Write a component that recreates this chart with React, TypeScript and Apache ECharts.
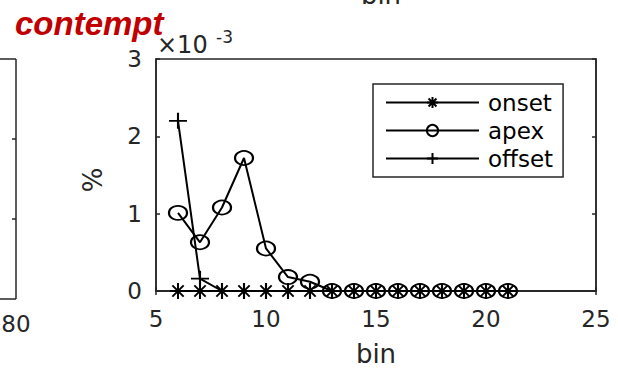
import React, { useEffect, useRef } from "react";
import * as echarts from "echarts";

// bins (x values)
const bins = [6, 7, 8, 9, 10, 11, 12, 13, 14, 15, 16, 17, 18, 19, 20, 21];
// values in units of 1e-3 (axis shows "× 10^-3")
const onsetVals = [0, 0, 0, 0, 0, 0, 0, 0, 0, 0, 0, 0, 0, 0, 0, 0];
const apexVals = [1.01, 0.63, 1.08, 1.72, 0.55, 0.18, 0.12, 0, 0, 0, 0, 0, 0, 0, 0, 0];
const offsetVals = [2.2, 0.16, 0, 0, 0, 0, 0, 0, 0, 0, 0, 0, 0, 0, 0, 0];
const seriesNames = ["onset", "apex", "offset"];
const xTicks = { min: 5, max: 25, step: 5 };
const yTicks = { min: 0, max: 3, step: 1 };
const leftPanelTick = "80";

const AX = "#262626";
const FONT = "DejaVu Sans";

const asteriskPath =
  "path://M0,-10L0,10M-10,0L10,0M-7.07,-7.07L7.07,7.07M-7.07,7.07L7.07,-7.07";
const plusPath = "path://M0,-10L0,10M-10,0L10,0";

export default function App() {
  const ref = useRef<HTMLDivElement>(null);
  useEffect(() => {
    if (!ref.current) return;
    document.body.style.margin = "0";
    const chart = echarts.init(ref.current, null, { renderer: "svg" });
    const pts = (vals: number[]) => bins.map((b, i) => [b, vals[i]]);
    const common = {
      type: "line",
      lineStyle: { color: "#000", width: 2 },
      itemStyle: { color: "rgba(0,0,0,0)", borderColor: "#000", borderWidth: 2 },
      emphasis: { disabled: true },
    };
    const gx = 156, gy = 59, gw = 440, gh = 240;
    chart.setOption({
      animation: false,
      backgroundColor: "#fff",
      textStyle: { fontFamily: FONT },
      grid: {
        left: gx, top: gy, width: gw, height: gh,
        show: true, borderColor: AX, borderWidth: 1.5, backgroundColor: "#fff",
      },
      xAxis: [
        {
          type: "value", position: "bottom", min: xTicks.min, max: xTicks.max, interval: xTicks.step,
          axisLine: { show: true, lineStyle: { color: AX, width: 1.5 } },
          axisTick: { show: true, inside: true, length: 4, lineStyle: { color: AX, width: 1.5 } },
          axisLabel: { fontSize: 23, color: AX, margin: 16, fontFamily: FONT },
          splitLine: { show: false },
          name: "bin", nameLocation: "middle", nameGap: 50,
          nameTextStyle: { fontSize: 26, color: AX, fontFamily: FONT },
        },
        {
          type: "value", position: "top", min: xTicks.min, max: xTicks.max, interval: xTicks.step,
          axisLine: { show: true, lineStyle: { color: AX, width: 1.5 } },
          axisTick: { show: true, inside: true, length: 4, lineStyle: { color: AX, width: 1.5 } },
          axisLabel: { show: false },
          splitLine: { show: false },
        },
      ],
      yAxis: [
        {
          type: "value", position: "left", min: yTicks.min, max: yTicks.max, interval: yTicks.step,
          axisLine: { show: true, lineStyle: { color: AX, width: 1.5 } },
          axisTick: { show: true, inside: true, length: 4, lineStyle: { color: AX, width: 1.5 } },
          axisLabel: { fontSize: 23, color: AX, margin: 14, fontFamily: FONT },
          splitLine: { show: false },
        },
        {
          type: "value", position: "right", min: yTicks.min, max: yTicks.max, interval: yTicks.step,
          axisLine: { show: true, lineStyle: { color: AX, width: 1.5 } },
          axisTick: { show: true, inside: true, length: 4, lineStyle: { color: AX, width: 1.5 } },
          axisLabel: { show: false },
          splitLine: { show: false },
        },
      ],
      legend: {
        orient: "vertical", left: 373, top: 84,
        padding: [7, 10, 7, 12], itemGap: 5, itemWidth: 93, itemHeight: 14,
        borderColor: AX, borderWidth: 1.5, backgroundColor: "#fff",
        textStyle: { fontSize: 23, color: "#000", fontFamily: FONT, padding: [0, 0, 0, 4] },
        data: seriesNames,
      },
      series: [
        { ...common, name: seriesNames[0], data: pts(onsetVals), symbol: asteriskPath, symbolSize: [16, 16] },
        { ...common, name: seriesNames[1], data: pts(apexVals), symbol: "circle", symbolSize: [18, 14] },
        { ...common, name: seriesNames[2], data: pts(offsetVals), symbol: plusPath, symbolSize: [18, 16] },
      ],
      graphic: [
        // partial neighbouring panel on the left
        { type: "line", shape: { x1: 0, y1: gy, x2: 16, y2: gy }, style: { stroke: AX, lineWidth: 1.5 } },
        { type: "line", shape: { x1: 0, y1: gy + gh, x2: 16, y2: gy + gh }, style: { stroke: AX, lineWidth: 1.5 } },
        { type: "line", shape: { x1: 16, y1: gy, x2: 16, y2: gy + gh }, style: { stroke: AX, lineWidth: 1.5 } },
        { type: "line", shape: { x1: 12, y1: 139, x2: 16, y2: 139 }, style: { stroke: AX, lineWidth: 1.5 } },
        { type: "line", shape: { x1: 12, y1: 219, x2: 16, y2: 219 }, style: { stroke: AX, lineWidth: 1.5 } },
        {
          type: "text", x: 16, y: 324,
          style: { text: leftPanelTick, fontSize: 23, fill: AX, fontFamily: FONT, textAlign: "center", textVerticalAlign: "middle" },
        },
        // cut-off title of the panel above
        {
          type: "text", x: 381, y: -5,
          style: { text: "bin", fontSize: 26, fill: AX, fontFamily: FONT, textAlign: "center", textVerticalAlign: "middle" },
        },
        // emotion label
        {
          type: "text", x: 15, y: 23,
          style: {
            text: "contempt", fontSize: 33, fontWeight: "bold", fontStyle: "italic",
            fill: "#C00000", fontFamily: "Liberation Sans", textAlign: "left", textVerticalAlign: "middle",
          },
        },
        // y label
        {
          type: "text", x: 93, y: 180, rotation: Math.PI / 2,
          style: { text: "%", fontSize: 26, fill: AX, fontFamily: FONT, textAlign: "center", textVerticalAlign: "middle" },
        },
        // exponent
        {
          type: "text", x: 157, y: 45,
          style: { text: "×10", fontSize: 24, fill: AX, fontFamily: FONT, textAlign: "left", textVerticalAlign: "middle" },
        },
        {
          type: "text", x: 216, y: 37,
          style: { text: "-3", fontSize: 17, fill: AX, fontFamily: FONT, textAlign: "left", textVerticalAlign: "middle" },
        },
      ],
    });
    return () => chart.dispose();
  }, []);
  return <div ref={ref} style={{ width: 618, height: 372 }} />;
}
